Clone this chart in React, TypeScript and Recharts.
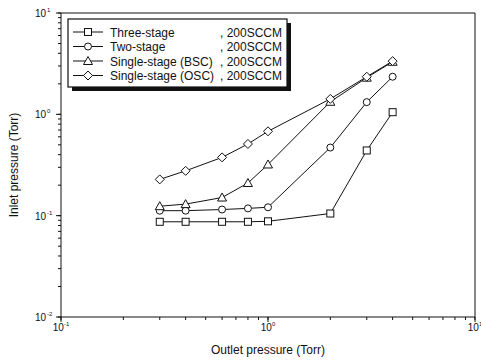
import {
  LineChart,
  Line,
  XAxis,
  YAxis,
  Label,
  ReferenceLine,
} from 'recharts';

// outlet pressure (Torr)
const outlet = [0.3, 0.4, 0.6, 0.8, 1, 2, 3, 4];

// inlet pressure (Torr) per configuration
const threeStage = [0.087, 0.087, 0.087, 0.087, 0.088, 0.105, 0.44, 1.05];
const twoStage = [0.112, 0.112, 0.115, 0.118, 0.121, 0.47, 1.32, 2.35];
const singleBSC = [0.124, 0.13, 0.151, 0.21, 0.32, 1.33, 2.3, 3.3];
const singleOSC = [0.228, 0.277, 0.376, 0.51, 0.68, 1.42, 2.35, 3.35];

const seriesNames = [
  'Three-stage',
  'Two-stage',
  'Single-stage (BSC)',
  'Single-stage (OSC)',
];
const flowLabel = ', 200SCCM';

const xMajor = [0.1, 1, 10];
const xMinor = [0.2, 0.3, 0.4, 0.5, 0.6, 0.7, 0.8, 0.9, 2, 3, 4, 5, 6, 7, 8, 9];
const yMajor = [0.01, 0.1, 1, 10];
const yMinor = [
  0.02, 0.03, 0.04, 0.05, 0.06, 0.07, 0.08, 0.09,
  0.2, 0.3, 0.4, 0.5, 0.6, 0.7, 0.8, 0.9,
  2, 3, 4, 5, 6, 7, 8, 9,
];

const data = outlet.map((p, i) => ({
  outlet: p,
  three: threeStage[i],
  two: twoStage[i],
  bsc: singleBSC[i],
  osc: singleOSC[i],
}));

const INK = '#111';
const FONT = 'Liberation Sans, Arial, sans-serif';

const W = 481;
const H = 361;
const Y_AXIS_W = 61;
const X_AXIS_H = 44;
// axis line positions, from the chart margins below
const AXIS_X = Y_AXIS_W;
const AXIS_Y = H - X_AXIS_H;

type Kind = 'square' | 'circle' | 'triangle' | 'diamond';

function Marker({ cx, cy, kind }: { cx: number; cy: number; kind: Kind }) {
  const s = 3.5;
  const common = { fill: '#fff', stroke: INK, strokeWidth: 1 };
  if (kind === 'square') return <rect x={cx - s} y={cy - s} width={2 * s} height={2 * s} {...common} />;
  if (kind === 'circle') return <circle cx={cx} cy={cy} r={s} {...common} />;
  if (kind === 'triangle')
    return <polygon points={`${cx},${cy - s - 1} ${cx - s - 1},${cy + s} ${cx + s + 1},${cy + s}`} {...common} />;
  return <polygon points={`${cx},${cy - s - 1} ${cx + s + 1},${cy} ${cx},${cy + s + 1} ${cx - s - 1},${cy}`} {...common} />;
}

const dotFor = (kind: Kind) => (props: any) =>
  props.cx == null ? <g key={props.key} /> : <Marker key={props.key} cx={props.cx} cy={props.cy} kind={kind} />;

const exponent = (v: number) => Math.round(Math.log10(v));

// recharts draws the short (3px) tick for every value; majors get a longer mark here
function XTick(props: any) {
  const { x, payload } = props;
  if (!xMajor.includes(payload.value)) return <g />;
  return (
    <g>
      <path d={`M${x},${AXIS_Y}V${AXIS_Y + 5}`} stroke={INK} fill="none" />
      <text x={x} y={AXIS_Y + 14} textAnchor="middle" fontSize={10} fontFamily={FONT} fill={INK}>
        <tspan>10</tspan>
        <tspan dy={-5} fontSize={6}>{exponent(payload.value)}</tspan>
      </text>
    </g>
  );
}

function YTick(props: any) {
  const { y, payload } = props;
  if (!yMajor.includes(payload.value)) return <g />;
  return (
    <g>
      <path d={`M${AXIS_X},${y}H${AXIS_X - 5}`} stroke={INK} fill="none" />
      <text x={AXIS_X - 15} y={y + 4} textAnchor="end" fontSize={10} fontFamily={FONT} fill={INK}>
        10
      </text>
      <text x={AXIS_X - 14} y={y - 1} textAnchor="start" fontSize={6} fontFamily={FONT} fill={INK}>
        {exponent(payload.value)}
      </text>
    </g>
  );
}

const kinds: Kind[] = ['square', 'circle', 'triangle', 'diamond'];

function LegendBox() {
  const left = 68;
  const top = 19;
  const w = 219;
  const h = 68;
  return (
    <svg width={300} height={100} style={{ position: 'absolute', left: 0, top: 0 }}>
      <rect x={left + 4} y={top + 4} width={w} height={h} fill={INK} />
      <rect x={left} y={top} width={w} height={h} fill="#fff" stroke={INK} strokeWidth={1.2} />
      {seriesNames.map((name, i) => {
        const cy = top + 13 + i * 14.5;
        return (
          <g key={name}>
            <line x1={left + 5} x2={left + 35} y1={cy} y2={cy} stroke={INK} />
            <Marker cx={left + 20} cy={cy} kind={kinds[i]} />
            <text x={left + 42} y={cy + 4.5} fontSize={12} fontFamily={FONT} fill={INK}>
              {name}
            </text>
            <text x={left + 152} y={cy + 4.5} fontSize={12} fontFamily={FONT} fill={INK}>
              {flowLabel}
            </text>
          </g>
        );
      })}
    </svg>
  );
}

export default function App() {
  return (
    <div style={{ position: 'absolute', left: 0, top: 0, width: W, height: H, background: '#fff' }}>
      <LineChart width={W} height={H} data={data} margin={{ top: 13, right: 6, left: 0, bottom: 0 }}>
        <XAxis
          dataKey="outlet"
          type="number"
          scale="log"
          domain={[0.1, 10]}
          ticks={[...xMajor, ...xMinor]}
          allowDataOverflow
          height={X_AXIS_H}
          stroke={INK}
          tickLine={{ stroke: INK }}
          tickSize={3}
          tick={<XTick />}
          interval={0}
        >
          <Label
            content={(p: any) => (
              <text
                x={p.viewBox.x + p.viewBox.width / 2}
                y={354}
                textAnchor="middle"
                fontSize={12}
                fontFamily={FONT}
                fill={INK}
              >
                Outlet pressure (Torr)
              </text>
            )}
          />
        </XAxis>
        <YAxis
          type="number"
          scale="log"
          domain={[0.01, 10]}
          ticks={[...yMajor, ...yMinor]}
          allowDataOverflow
          width={Y_AXIS_W}
          stroke={INK}
          tickLine={{ stroke: INK }}
          tickSize={3}
          tick={<YTick />}
          interval={0}
        >
          <Label
            content={(p: any) => {
              const cy = p.viewBox.y + p.viewBox.height / 2;
              return (
                <text
                  x={18}
                  y={cy}
                  transform={`rotate(-90 18 ${cy})`}
                  textAnchor="middle"
                  fontSize={12}
                  fontFamily={FONT}
                  fill={INK}
                >
                  Inlet pressure (Torr)
                </text>
              );
            }}
          />
        </YAxis>
        <ReferenceLine y={10} stroke={INK} ifOverflow="visible" />
        <ReferenceLine x={10} stroke={INK} ifOverflow="visible" />
        <Line dataKey="three" stroke={INK} strokeWidth={1} dot={dotFor('square')} isAnimationActive={false} />
        <Line dataKey="two" stroke={INK} strokeWidth={1} dot={dotFor('circle')} isAnimationActive={false} />
        <Line dataKey="bsc" stroke={INK} strokeWidth={1} dot={dotFor('triangle')} isAnimationActive={false} />
        <Line dataKey="osc" stroke={INK} strokeWidth={1} dot={dotFor('diamond')} isAnimationActive={false} />
      </LineChart>
      <LegendBox />
    </div>
  );
}
